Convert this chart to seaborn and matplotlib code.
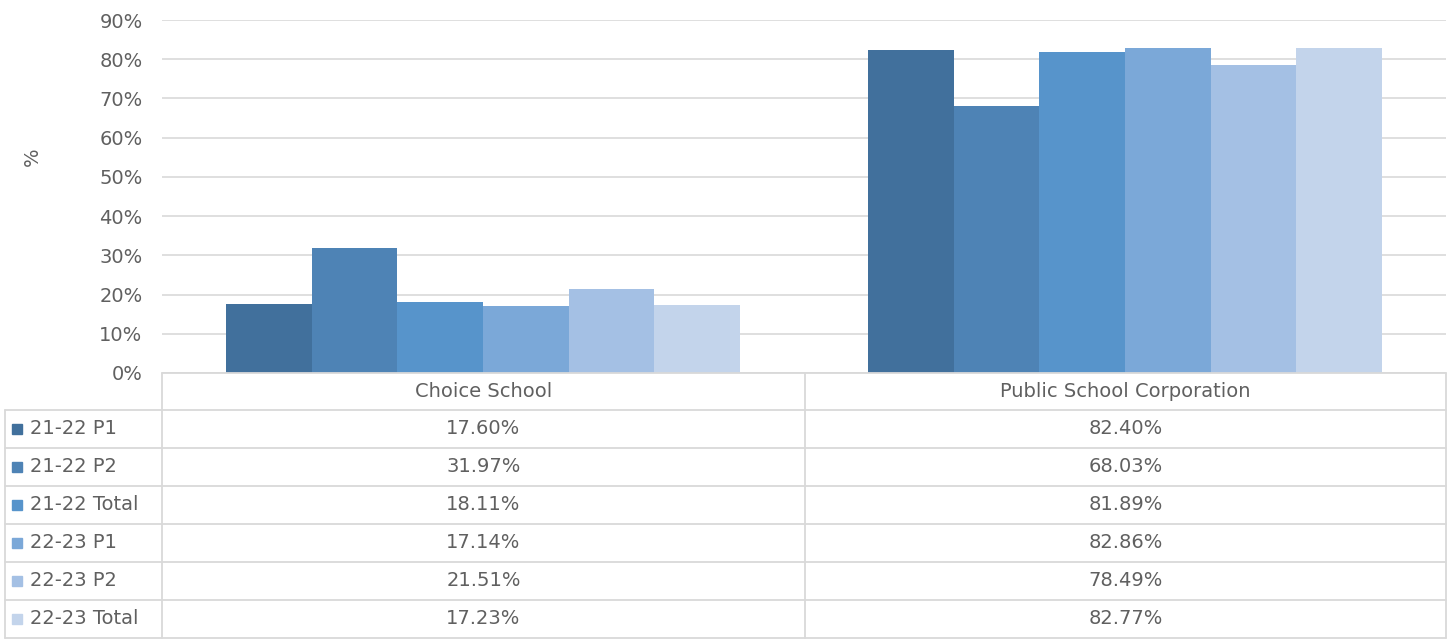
import pandas as pd
import matplotlib.pyplot as plt
import seaborn as sns
from matplotlib.lines import Line2D
from matplotlib.patches import Rectangle

# data
categories = ['Choice School', 'Public School Corporation']
series = ['21-22 P1', '21-22 P2', '21-22 Total', '22-23 P1', '22-23 P2', '22-23 Total']
choice_school = [17.60, 31.97, 18.11, 17.14, 21.51, 17.23]
public_school = [82.40, 68.03, 81.89, 82.86, 78.49, 82.77]
y_ticks = [0, 10, 20, 30, 40, 50, 60, 70, 80, 90]

colors = ['#41709C', '#4E83B5', '#5794CB', '#7BA8D8', '#A4C0E4', '#C3D4EB']
text_color = '#606060'
line_color = '#D9D9D9'

df = pd.DataFrame({
    'Category': [categories[0]] * len(series) + [categories[1]] * len(series),
    'Series': series + series,
    'Value': choice_school + public_school,
})

sns.set_style('white')
plt.rcParams['font.family'] = ['DejaVu Sans']
FS = 14

W, H = 1455, 640
fig = plt.figure(figsize=(W / 100, H / 100), dpi=100)

# plot area in pixels
ax_l, ax_r, ax_t, ax_b = 162, 1446, 20, 373
ax = fig.add_axes([ax_l / W, 1 - ax_b / H, (ax_r - ax_l) / W, (ax_b - ax_t) / H])

sns.barplot(data=df, x='Category', y='Value', hue='Series', order=categories,
            hue_order=series, palette=colors, width=0.8, errorbar=None,
            saturation=1, legend=False, linewidth=0, ax=ax)

ax.set_xlim(-0.5, 1.5)
ax.set_ylim(0, 90)
ax.set_yticks(y_ticks)
ax.set_yticklabels([f'{t}%' for t in y_ticks], fontsize=FS, color=text_color)
ax.set_xticks([])
ax.set_xlabel('')
ax.set_ylabel('')
ax.tick_params(axis='y', length=0, pad=14)
ax.grid(axis='y', color=line_color, linewidth=1.2)
ax.set_axisbelow(True)
for s in ax.spines.values():
    s.set_visible(False)


def fx(px):
    return px / W


def fy(py):
    return 1 - py / H


fig.text(fx(32), fy(157), '%', rotation=90, ha='center', va='center',
         fontsize=FS, color=text_color)

# data table below the chart
left_edge, col_split = 5, 805
header_top, header_bot = 373, 410
row_h = 38
row_edges = [header_bot + i * row_h for i in range(len(series) + 1)]
bottom = row_edges[-1]

def hline(y, x0, x1):
    fig.add_artist(Line2D([fx(x0), fx(x1)], [fy(y), fy(y)], color=line_color, lw=1.3))

def vline(x, y0, y1):
    fig.add_artist(Line2D([fx(x), fx(x)], [fy(y0), fy(y1)], color=line_color, lw=1.3))

hline(header_top, ax_l, ax_r)
for y in row_edges:
    hline(y, left_edge, ax_r)
vline(left_edge, header_bot, bottom)
vline(ax_l, header_top, bottom)
vline(col_split, header_top, bottom)
vline(ax_r, header_top, bottom)

# header labels
col_centers = [(ax_l + col_split) / 2, (col_split + ax_r) / 2]
for cx, cat in zip(col_centers, categories):
    fig.text(fx(cx), fy((header_top + header_bot) / 2), cat, ha='center', va='center',
             fontsize=FS, color=text_color)

# rows
for i, name in enumerate(series):
    cy = (row_edges[i] + row_edges[i + 1]) / 2
    fig.add_artist(Rectangle((fx(12), fy(cy + 5)), fx(10), 10 / H, color=colors[i]))
    fig.text(fx(30), fy(cy), name, ha='left', va='center', fontsize=FS, color=text_color)
    fig.text(fx(col_centers[0]), fy(cy), f'{choice_school[i]:.2f}%', ha='center',
             va='center', fontsize=FS, color=text_color)
    fig.text(fx(col_centers[1]), fy(cy), f'{public_school[i]:.2f}%', ha='center',
             va='center', fontsize=FS, color=text_color)

fig.savefig('out.png', dpi=100)
